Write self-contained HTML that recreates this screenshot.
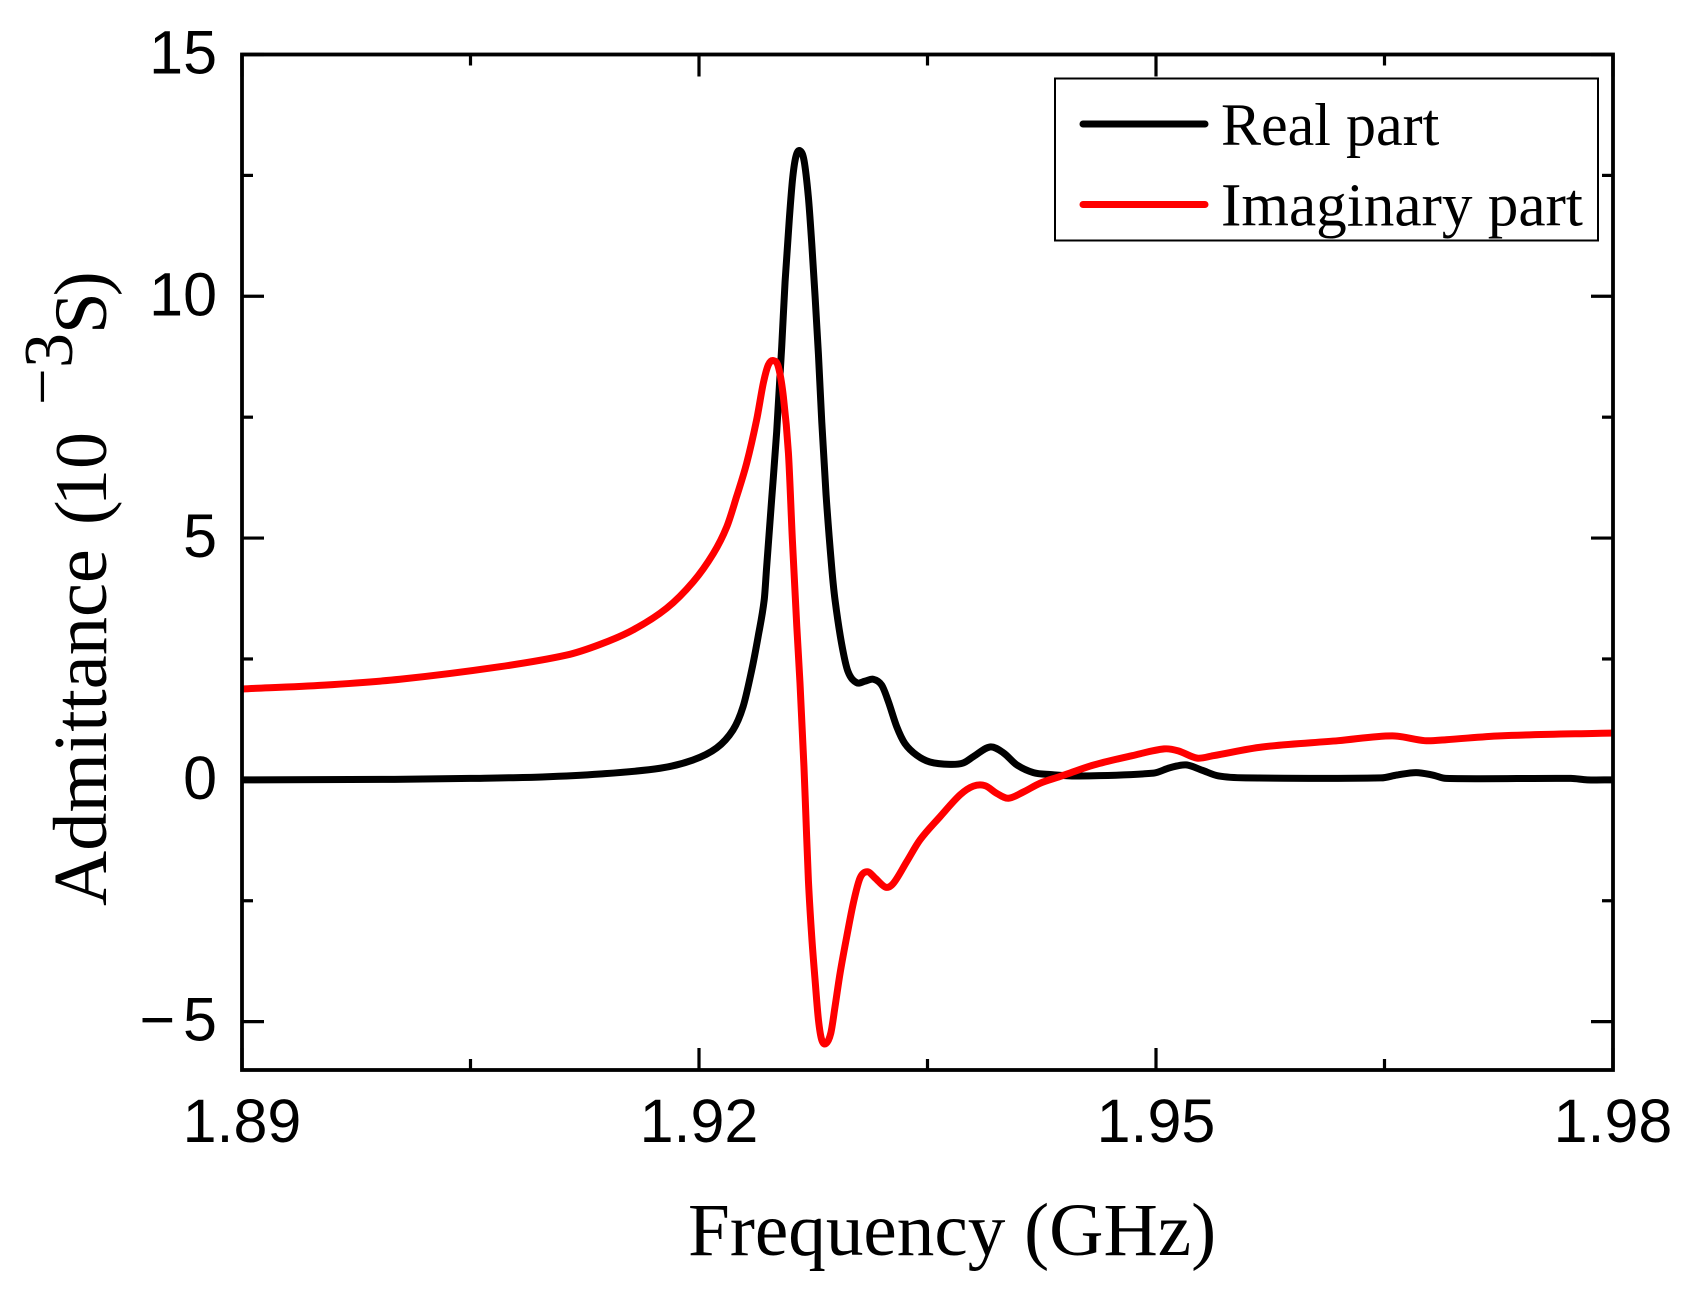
<!DOCTYPE html>
<html lang="en">
<head>
<meta charset="utf-8">
<title>Admittance vs Frequency</title>
<style>
html,body{margin:0;padding:0;background:#fff;width:1700px;height:1296px;overflow:hidden}
svg{display:block}
.sans{font-family:"Liberation Sans",sans-serif;fill:#000}
.serif{font-family:"Liberation Serif",serif;fill:#000}
</style>
</head>
<body>
<svg id="chart" xmlns="http://www.w3.org/2000/svg" width="1700" height="1296" viewBox="0 0 1700 1296">
  <rect x="0" y="0" width="1700" height="1296" fill="#fff"/>
  <g id="series" fill="none" stroke-linejoin="round" stroke-linecap="butt"></g>
  <g id="ticks" stroke="#000" stroke-width="3.2"></g>
  <rect x="242" y="54.5" width="1371" height="1015.5" fill="none" stroke="#000" stroke-width="3.8"/>
  <g id="tick-labels" class="sans" font-size="61"></g>

  <text class="serif" x="688" y="1255" font-size="75.2">Frequency (GHz)</text>

  <g class="serif">
    <text transform="translate(106,906) rotate(-90)" font-size="76.5">Admittance</text>
    <text transform="translate(106,525) rotate(-90)" font-size="74">(</text>
    <text transform="translate(106,506) rotate(-90)" font-size="74">10</text>
    <text transform="translate(64,405) rotate(-90)" font-size="65">−</text>
    <text transform="translate(72,368) rotate(-90)" font-size="70">3</text>
    <text transform="translate(106,334) rotate(-90)" font-size="75" letter-spacing="-4">S)</text>
  </g>

  <g>
    <rect x="1055" y="78.5" width="543" height="162" fill="#fff" stroke="#000" stroke-width="2"/>
    <line x1="1083" y1="124" x2="1205" y2="124" stroke="#000" stroke-width="7" stroke-linecap="round"/>
    <text class="serif" x="1221" y="145" font-size="60">Real part</text>
    <line x1="1083" y1="204.5" x2="1205" y2="204.5" stroke="#ff0000" stroke-width="7" stroke-linecap="round"/>
    <text class="serif" x="1221" y="225.5" font-size="61.2">Imaginary part</text>
  </g>
</svg>
<script>
// Chart data
const xMajorTicks = [1.89, 1.92, 1.95, 1.98];
const xMinorTicks = [1.905, 1.935, 1.965];
const xTickLabels = ['1.89', '1.92', '1.95', '1.98'];
const yMajorTicks = [15, 10, 5, 0, -5];
const yMinorTicks = [12.5, 7.5, 2.5, -2.5];
const yTickLabels = ['15', '10', '5', '0', '−5'];

const realFreq = [1.89, 1.90, 1.905, 1.9097, 1.9135, 1.91744, 1.9196, 1.92116, 1.92223, 1.92289, 1.92346, 1.92388, 1.92428, 1.92444, 1.92477, 1.9251, 1.92543, 1.92565, 1.92593, 1.92615, 1.92637, 1.92663, 1.9269, 1.92718, 1.9274, 1.92762, 1.92784, 1.92806, 1.92834, 1.92871, 1.92893, 1.92936, 1.92978, 1.93035, 1.93089, 1.93144, 1.93199, 1.93243, 1.93298, 1.93352, 1.93429, 1.93516, 1.93648, 1.93735, 1.93801, 1.9391, 1.93998, 1.94086, 1.94195, 1.94304, 1.94487, 1.94984, 1.95091, 1.95197, 1.95302, 1.95411, 1.95589, 1.96477, 1.96582, 1.96707, 1.96816, 1.96904, 1.97724, 1.9783, 1.98];
const realValues = [0.0, 0.01, 0.03, 0.06, 0.12, 0.24, 0.41, 0.66, 1.03, 1.51, 2.27, 2.96, 3.72, 4.4, 5.8, 7.2, 8.96, 10.3, 11.6, 12.45, 12.9, 13.01, 12.8, 12.05, 11.1, 10.0, 8.8, 7.4, 5.9, 4.4, 3.72, 2.82, 2.24, 2.01, 2.04, 2.08, 1.96, 1.62, 1.10, 0.75, 0.51, 0.37, 0.32, 0.35, 0.48, 0.68, 0.56, 0.31, 0.15, 0.11, 0.08, 0.14, 0.25, 0.31, 0.2, 0.08, 0.04, 0.04, 0.1, 0.15, 0.1, 0.03, 0.03, 0.0, 0.0];

const imagFreq = [1.89, 1.8954, 1.90037, 1.90694, 1.91131, 1.9135, 1.91567, 1.91788, 1.91963, 1.92094, 1.92182, 1.92247, 1.92313, 1.92378, 1.92422, 1.92455, 1.92488, 1.92521, 1.92554, 1.92587, 1.92613, 1.92642, 1.92663, 1.92689, 1.92701, 1.92718, 1.9274, 1.92762, 1.92784, 1.92806, 1.92834, 1.92865, 1.92893, 1.92926, 1.9297, 1.93013, 1.93057, 1.93105, 1.93156, 1.93226, 1.93276, 1.93364, 1.93451, 1.93583, 1.93714, 1.93801, 1.93878, 1.93955, 1.94031, 1.9413, 1.94239, 1.94371, 1.94415, 1.94594, 1.94843, 1.95054, 1.95146, 1.9527, 1.95376, 1.95697, 1.96196, 1.96551, 1.96764, 1.96904, 1.97258, 1.98];
const imagValues = [1.88, 1.96, 2.08, 2.34, 2.58, 2.8, 3.1, 3.55, 4.1, 4.68, 5.23, 5.86, 6.55, 7.44, 8.2, 8.58, 8.67, 8.54, 7.92, 6.76, 4.96, 3.17, 2.0, 0.27, -0.7, -2.07, -3.24, -4.14, -4.96, -5.38, -5.45, -5.24, -4.69, -4.0, -3.24, -2.55, -2.03, -1.9, -2.03, -2.22, -2.14, -1.69, -1.24, -0.76, -0.31, -0.13, -0.12, -0.28, -0.38, -0.25, -0.07, 0.07, 0.12, 0.31, 0.5, 0.64, 0.6, 0.45, 0.5, 0.68, 0.81, 0.91, 0.81, 0.83, 0.91, 0.97];

// Axis functions
const xScale = f => 242 + (f - 1.89) / 0.09 * 1371;
const yScale = v => 1070 - (v + 6) / 21 * 1015.5;

const NS = 'http://www.w3.org/2000/svg';
function make(tag, attrs, parent) {
  const el = document.createElementNS(NS, tag);
  for (const k in attrs) el.setAttribute(k, attrs[k]);
  parent.appendChild(el);
  return el;
}

// Smooth path through unevenly spaced points
function smoothPath(fs, vs) {
  const p = fs.map((f, i) => [xScale(f), yScale(vs[i])]);
  let d = 'M' + p[0][0].toFixed(2) + ' ' + p[0][1].toFixed(2);
  const tangent = i => {
    const a = p[Math.max(i - 1, 0)], b = p[Math.min(i + 1, p.length - 1)];
    return (b[1] - a[1]) / (b[0] - a[0]);
  };
  for (let i = 0; i < p.length - 1; i++) {
    const h = (p[i + 1][0] - p[i][0]) / 3;
    const c1x = p[i][0] + h, c1y = p[i][1] + tangent(i) * h;
    const c2x = p[i + 1][0] - h, c2y = p[i + 1][1] - tangent(i + 1) * h;
    d += 'C' + c1x.toFixed(2) + ' ' + c1y.toFixed(2) + ' ' + c2x.toFixed(2) + ' ' + c2y.toFixed(2) + ' ' + p[i + 1][0].toFixed(2) + ' ' + p[i + 1][1].toFixed(2);
  }
  return d;
}

const seriesG = document.getElementById('series');
const realLine = make('path', {d: smoothPath(realFreq, realValues), stroke: '#000', 'stroke-width': 7}, seriesG);


const imagLine = make('path', {d: smoothPath(imagFreq, imagValues), stroke: '#ff0000', 'stroke-width': 7}, seriesG);



// Ticks
const ticksG = document.getElementById('ticks');
const TOP = 54.5, BOTTOM = 1070, LEFT = 242, RIGHT = 1613, MAJOR = 22, MINOR = 11;
function xTick(f, len, kind) {
  const x = xScale(f);
  const b = make('line', {x1: x, x2: x, y1: BOTTOM, y2: BOTTOM - len}, ticksG);
  
  
  const t = make('line', {x1: x, x2: x, y1: TOP, y2: TOP + len}, ticksG);
  
  
}
function yTick(v, len, kind) {
  const y = yScale(v);
  const l = make('line', {x1: LEFT, x2: LEFT + len, y1: y, y2: y}, ticksG);
  
  
  const r = make('line', {x1: RIGHT, x2: RIGHT - len, y1: y, y2: y}, ticksG);
  
  
}
xMajorTicks.forEach(f => xTick(f, MAJOR, 'major'));
xMinorTicks.forEach(f => xTick(f, MINOR, 'minor'));
yMajorTicks.forEach(v => yTick(v, MAJOR, 'major'));
yMinorTicks.forEach(v => yTick(v, MINOR, 'minor'));

// Tick labels
const labelsG = document.getElementById('tick-labels');
xMajorTicks.forEach((f, i) => {
  const t = make('text', {x: xScale(f), y: 1142, 'text-anchor': 'middle'}, labelsG);
  t.textContent = xTickLabels[i];
  
  
});
yMajorTicks.forEach((v, i) => {
  const neg = v < 0;
  const t = make('text', {x: neg ? 225 : 217, y: yScale(v) + 19, 'text-anchor': 'end'}, labelsG);
  if (neg) t.setAttribute('letter-spacing', '8');
  t.textContent = yTickLabels[i];
  
  
});
</script>
</body>
</html>
